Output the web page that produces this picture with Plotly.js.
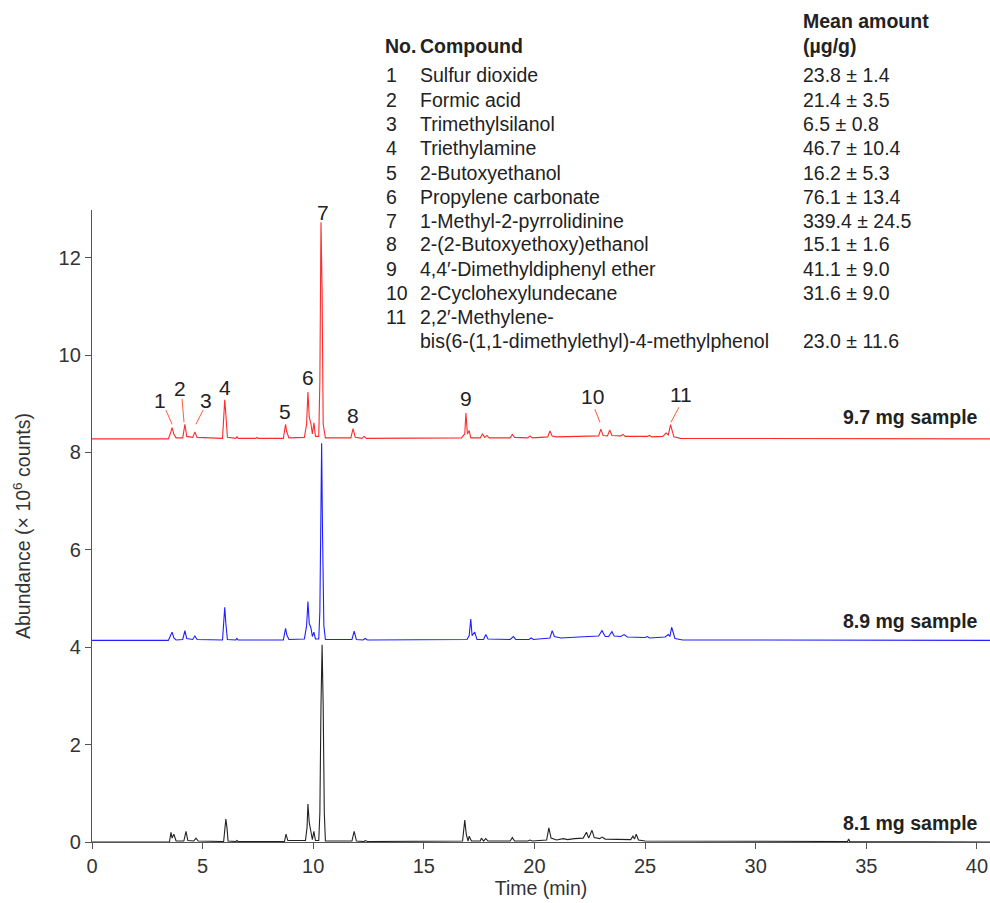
<!DOCTYPE html>
<html>
<head>
<meta charset="utf-8">
<script src="https://cdn.plot.ly/plotly-3.0.1.min.js"></script>
<style>html,body{margin:0;padding:0;background:#fff;}#chart{width:990px;height:903px;}</style>
</head>
<body>
<div id="chart"></div>
<script>
// ---------- DATA ----------
// Sample labels and baseline offsets (×10^6 counts) of the stacked chromatograms
const sampleNames = ["9.7 mg sample", "8.9 mg sample", "8.1 mg sample"];
const sampleOffsets = [8.28, 4.14, 0.0];
const sampleColors = ["#ff2a2a", "#1f1fff", "#222222"];

// 9.7 mg sample (red): retention time (min) and abundance above baseline (×10^6 counts)
const redTime = [0,3.45,3.55,3.62,3.7,3.8,4.1,4.2,4.28,4.55,4.65,4.75,5.9,6.0,6.05,6.12,6.5,6.55,6.6,7.4,7.45,7.5,8.65,8.75,8.8,8.9,9.6,9.7,9.76,9.82,9.9,9.96,10.03,10.1,10.25,10.3,10.35,10.4,10.45,10.55,11.7,11.8,11.9,12.2,12.3,12.4,16.7,16.85,16.9,16.97,17.05,17.12,17.55,17.65,17.75,17.85,17.95,18.9,19.0,19.1,19.7,19.8,19.9,20.6,20.7,20.8,21.0,22.0,22.9,23.0,23.1,23.3,23.4,23.5,23.9,24.0,24.1,25.1,25.2,25.3,25.8,25.95,26.05,26.15,26.3,26.6,40.6];
const redAbund = [0,0,0.12,0.23,0.1,0.02,0.02,0.30,0.05,0.03,0.14,0.03,0.01,0.80,0.5,0.03,0.01,0.05,0.01,0.01,0.03,0.01,0.01,0.30,0.15,0.02,0.03,0.3,0.96,0.45,0.3,0.1,0.33,0.05,0.05,1.2,4.45,3.05,0.3,0.02,0.02,0.21,0.03,0.01,0.05,0.01,0.02,0.1,0.53,0.1,0.17,0.02,0.02,0.1,0.03,0.07,0.02,0.02,0.09,0.03,0.02,0.06,0.02,0.04,0.16,0.06,0.04,0.05,0.06,0.2,0.07,0.06,0.18,0.07,0.06,0.09,0.05,0.05,0.07,0.04,0.05,0.12,0.08,0.29,0.04,0.01,0];

// 8.9 mg sample (blue)
const blueTime = [0,3.45,3.55,3.62,3.7,3.8,4.1,4.2,4.28,4.55,4.65,4.75,5.9,6.0,6.05,6.12,6.5,6.55,6.6,7.4,7.45,7.5,8.65,8.75,8.8,8.9,9.6,9.7,9.76,9.82,9.9,9.96,10.03,10.1,10.25,10.3,10.38,10.42,10.48,10.55,11.75,11.85,11.95,12.25,12.35,12.45,16.95,17.05,17.12,17.18,17.3,17.4,17.7,17.8,17.9,18.9,19.05,19.15,19.75,19.85,19.95,20.7,20.8,20.9,21.2,22.0,22.9,23.05,23.2,23.35,23.5,23.6,23.9,24.05,24.2,25.0,25.1,25.2,25.9,26.05,26.12,26.2,26.35,26.7,40.6];
const blueAbund = [0,0,0.1,0.17,0.05,0.01,0.02,0.2,0.04,0.02,0.09,0.02,0.01,0.68,0.35,0.02,0.01,0.04,0.01,0.01,0.02,0.01,0.01,0.25,0.12,0.02,0.03,0.3,0.8,0.35,0.25,0.08,0.17,0.03,0.03,0.6,4.05,2.2,0.3,0.02,0.02,0.19,0.02,0.01,0.04,0.01,0.02,0.1,0.44,0.1,0.17,0.02,0.02,0.12,0.03,0.02,0.08,0.02,0.02,0.05,0.02,0.05,0.2,0.08,0.05,0.07,0.09,0.2,0.08,0.08,0.18,0.09,0.08,0.12,0.07,0.06,0.08,0.05,0.07,0.12,0.08,0.27,0.04,0.01,0];

// 8.1 mg sample (black)
const blackTime = [0,3.5,3.57,3.62,3.7,3.8,4.15,4.25,4.33,4.6,4.7,4.8,5.95,6.05,6.1,6.15,6.5,6.55,6.6,8.7,8.77,8.85,9.65,9.72,9.76,9.82,9.9,9.96,10.03,10.1,10.25,10.3,10.35,10.4,10.45,10.5,10.55,11.75,11.85,11.95,12.3,12.35,12.45,16.75,16.85,16.92,17.0,17.05,17.15,17.55,17.6,17.7,17.8,17.9,18.9,19.0,19.1,19.7,19.8,19.9,20.55,20.65,20.75,21.0,21.3,21.5,21.8,22.2,22.35,22.45,22.6,22.7,22.95,23.05,23.2,23.8,23.9,24.35,24.45,24.52,24.6,24.7,25.0,34.15,34.2,34.25,40.6];
const blackAbund = [0,0,0.2,0.08,0.16,0.02,0.02,0.22,0.03,0.02,0.08,0.02,0.01,0.47,0.3,0.02,0.01,0.03,0.01,0.01,0.16,0.03,0.03,0.3,0.78,0.4,0.2,0.05,0.22,0.03,0.03,0.6,2.8,4.05,2.8,0.6,0.02,0.02,0.22,0.02,0.01,0.03,0.01,0.02,0.45,0.15,0.02,0.12,0.02,0.02,0.08,0.02,0.07,0.02,0.02,0.09,0.02,0.02,0.04,0.02,0.04,0.29,0.08,0.04,0.07,0.05,0.07,0.08,0.2,0.08,0.24,0.09,0.07,0.1,0.06,0.05,0.05,0.05,0.12,0.06,0.16,0.04,0.02,0.01,0.06,0.01,0];

// Compound table
const compoundNo = ["1","2","3","4","5","6","7","8","9","10","11"];
const compoundName = ["Sulfur dioxide","Formic acid","Trimethylsilanol","Triethylamine","2-Butoxyethanol","Propylene carbonate","1-Methyl-2-pyrrolidinine","2-(2-Butoxyethoxy)ethanol","4,4\u2032-Dimethyldiphenyl ether","2-Cyclohexylundecane","2,2\u2032-Methylene-<br>bis(6-(1,1-dimethylethyl)-4-methylphenol"];
const meanAmount = ["23.8 \u00b1 1.4","21.4 \u00b1 3.5","6.5 \u00b1 0.8","46.7 \u00b1 10.4","16.2 \u00b1 5.3","76.1 \u00b1 13.4","339.4 \u00b1 24.5","15.1 \u00b1 1.6","41.1 \u00b1 9.0","31.6 \u00b1 9.0","23.0 \u00b1 11.6"];

// Peak labels (compound number -> label location in data units)
const peakLabelTime = [3.07,3.98,5.15,6.01,8.72,9.76,10.44,11.8,16.9,22.6,26.62];
const peakLabelAbund = [9.06,9.32,9.06,9.34,8.85,9.53,12.92,8.75,9.10,9.14,9.20];

// ---------- BUILD ----------
const FONT = "Liberation Sans, Arial, sans-serif";
const series = [[redTime, redAbund],[blueTime, blueAbund],[blackTime, blackAbund]];
const traces = series.map((s, i) => ({
  x: s[0],
  y: s[1].map(v => v + sampleOffsets[i]),
  type: "scatter", mode: "lines",
  line: {color: sampleColors[i], width: 1.1},
  hoverinfo: "skip", showlegend: false
}));
traces.reverse();

const W = 990, H = 903, L = 92, T = 210, B = 61;
const plotW = W - L, plotH = H - T - B;
const px2paperX = px => (px - L) / plotW;
const px2paperY = py => (H - B - py) / plotH;

const annotations = [];
const txtColor = "#222";
const TS = 19.5; // table font size
function tableText(px, py, text) {
  annotations.push({xref:"paper", yref:"paper", x:px2paperX(px), y:px2paperY(py), xanchor:"left", yanchor:"middle", text:text, showarrow:false, font:{family:FONT, size:TS, color:txtColor}});
}
tableText(801, 21, "<b>Mean amount</b>");
tableText(801, 46, "<b>(\u00b5g/g)</b>");
tableText(383, 46, "<b>No.</b>");
tableText(418, 46, "<b>Compound</b>");
const rowY = [75,99.5,124,148,172.5,196.5,220.5,244.5,269,293,317];
compoundNo.forEach((n, i) => {
  tableText(384, rowY[i], n);
  const lines = compoundName[i].split("<br>");
  lines.forEach((ln, k) => tableText(418, rowY[i] + 24 * k, ln));
  tableText(801, rowY[i] + 24 * (lines.length - 1), meanAmount[i]);
});
// peak number labels
compoundNo.forEach((n, i) => {
  annotations.push({xref:"x", yref:"y", x:peakLabelTime[i], y:peakLabelAbund[i], xanchor:"center", yanchor:"middle", text:n, showarrow:false, font:{family:FONT, size:21, color:txtColor}});
});
// sample labels
const sampleLabelY = [8.73, 4.54, 0.39];
sampleNames.forEach((s, i) => {
  annotations.push({xref:"paper", yref:"y", x:px2paperX(980), y:sampleLabelY[i], xanchor:"right", yanchor:"middle", text:"<b>"+s+"</b>", showarrow:false, font:{family:FONT, size:19.5, color:txtColor}});
});

// leader lines for labels 1,2,3,10,11
const leaders = [[3.34,8.87,3.62,8.58],[4.07,9.10,4.16,8.62],[5.02,8.87,4.70,8.58],[22.73,8.89,22.96,8.62],[26.53,8.93,26.17,8.62]];
const shapes = leaders.map(l => ({type:"line", xref:"x", yref:"y", x0:l[0], y0:l[1], x1:l[2], y1:l[3], line:{color:"#ff5a3a", width:1}}));

const layout = {
  width: W, height: H,
  margin: {l: L, r: 0, t: T, b: B},
  paper_bgcolor: "#fff", plot_bgcolor: "#fff",
  font: {family: FONT, color: txtColor},
  xaxis: {
    range: [0, 40.59], tickvals: [0,5,10,15,20,25,30,35,40],
    ticks: "outside", ticklen: 6, tickcolor: "#555", tickwidth: 1,
    showline: true, linecolor: "#555", linewidth: 1.2,
    showgrid: false, zeroline: false,
    tickfont: {family: FONT, size: 20, color: "#333"},
    title: {text: "Time (min)", font: {family: FONT, size: 19.5, color: "#333"}, standoff: 4}
  },
  yaxis: {
    range: [0, 12.98], tickvals: [0,2,4,6,8,10,12],
    ticks: "outside", ticklen: 6, tickcolor: "#555", tickwidth: 1,
    showline: true, linecolor: "#555", linewidth: 1.2,
    showgrid: false, zeroline: false,
    tickfont: {family: FONT, size: 20, color: "#333"},
    title: {text: "Abundance (\u00d7 10<sup>6</sup> counts)", font: {family: FONT, size: 19.5, color: "#333"}, standoff: 22}
  },
  annotations: annotations,
  shapes: shapes,
  showlegend: false
};
Plotly.newPlot("chart", traces, layout, {displayModeBar: false, staticPlot: true});
</script>
</body>
</html>
